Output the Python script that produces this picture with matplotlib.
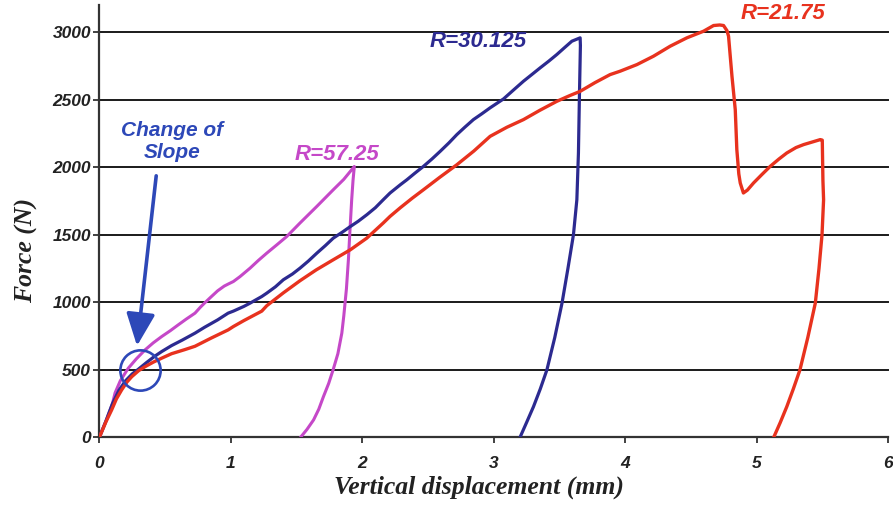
import matplotlib
matplotlib.use("Agg")
import matplotlib.pyplot as plt

# ---- data ----
x_5725 = [0, 0.05, 0.1, 0.12, 0.16, 0.22, 0.28, 0.348, 0.41, 0.475, 0.54, 0.6, 0.66, 0.728, 0.77,
          0.80, 0.85, 0.90, 0.95, 0.98, 1.02, 1.07, 1.147, 1.21, 1.274, 1.35, 1.426, 1.527, 1.655,
          1.78, 1.86, 1.94, 1.93, 1.92, 1.905, 1.895, 1.88, 1.86, 1.845, 1.815, 1.78, 1.745, 1.705,
          1.67, 1.63, 1.58, 1.53]
y_5725 = [0, 120, 250, 330, 420, 512, 580, 648, 700, 747, 790, 833, 875, 920, 965,
          994, 1040, 1085, 1120, 1135, 1154, 1190, 1253, 1310, 1364, 1425, 1487, 1587, 1710,
          1833, 1910, 2005, 1900, 1759, 1500, 1315, 1100, 900, 772, 620, 505, 400, 302,
          210, 130, 60, 0]

x_30125 = [0, 0.05, 0.1, 0.15, 0.2, 0.25, 0.297, 0.36, 0.42, 0.475, 0.55, 0.63, 0.728, 0.80, 0.9,
           0.98, 1.02, 1.1, 1.147, 1.236, 1.274, 1.34, 1.40, 1.47, 1.527, 1.59, 1.655, 1.72, 1.78,
           1.85, 1.91, 1.97, 2.035, 2.10, 2.16, 2.212, 2.29, 2.34, 2.40, 2.466, 2.53, 2.593, 2.66,
           2.72, 2.78, 2.846, 2.91, 2.973, 3.075, 3.15, 3.227, 3.29, 3.354, 3.42, 3.48, 3.54, 3.595,
           3.658, 3.66, 3.652, 3.645, 3.633, 3.607, 3.565, 3.52, 3.465, 3.405, 3.355, 3.303, 3.25, 3.2]
y_30125 = [0, 120, 250, 350, 420, 470, 505, 555, 600, 636, 680, 720, 772, 815, 870,
           920, 935, 970, 994, 1043, 1068, 1115, 1167, 1210, 1253, 1305, 1364, 1420, 1475,
           1520, 1561, 1600, 1648, 1700, 1759, 1809, 1870, 1907, 1955, 2006, 2060, 2117, 2180,
           2241, 2295, 2352, 2395, 2439, 2505, 2570, 2636, 2685, 2735, 2785, 2833, 2885, 2932,
           2957, 2900, 2500, 2105, 1759, 1500, 1250, 994, 740, 500, 360, 228, 110, 0]

x_2175 = [0, 0.05, 0.094, 0.13, 0.17, 0.21, 0.247, 0.30, 0.348, 0.41, 0.475, 0.55, 0.65, 0.728, 0.85,
          0.98, 1.02, 1.1, 1.236, 1.274, 1.40, 1.527, 1.65, 1.78, 1.91, 2.035, 2.16, 2.212, 2.29,
          2.38, 2.466, 2.59, 2.72, 2.85, 2.973, 3.1, 3.227, 3.35, 3.48, 3.58, 3.658, 3.77, 3.886,
          3.962, 4.09, 4.216, 4.343, 4.47, 4.597, 4.673, 4.72, 4.749, 4.775, 4.787, 4.80, 4.813,
          4.838, 4.85, 4.865, 4.876, 4.90, 4.93, 4.977, 5.04, 5.104, 5.17, 5.23, 5.30, 5.358, 5.42,
          5.485, 5.50, 5.505, 5.51, 5.498, 5.475, 5.447, 5.39, 5.33, 5.28, 5.23, 5.18, 5.13]
y_2175 = [0, 115, 204, 285, 352, 410, 450, 495, 524, 557, 587, 620, 650, 675, 735,
          796, 821, 865, 935, 975, 1070, 1160, 1240, 1315, 1389, 1475, 1587, 1636, 1700,
          1770, 1833, 1925, 2018, 2120, 2228, 2295, 2352, 2420, 2487, 2530, 2561, 2625, 2685,
          2710, 2759, 2821, 2895, 2957, 3006, 3048, 3052, 3048, 3010, 2969, 2820, 2673,
          2426, 2130, 1950, 1883, 1809, 1830, 1883, 1945, 2006, 2060, 2105, 2145, 2167, 2185,
          2204, 2200, 1900, 1759, 1500, 1250, 994, 740, 500, 360, 228, 110, 0]

x_ticks = [0, 1, 2, 3, 4, 5, 6]
y_ticks = [0, 500, 1000, 1500, 2000, 2500, 3000]

C_RED = "#E8321E"
C_BLUE = "#2C2A90"
C_MAG = "#C548C8"
C_ANN = "#2D48B8"

fig = plt.figure(figsize=(8.93, 5.08), dpi=100)
ax = fig.add_axes([0.1112, 0.1388, 0.8832, 0.8514])

ax.set_xlim(0, 6)
ax.set_ylim(0, 3200)

for y in y_ticks[1:]:
    ax.axhline(y, color="#1a1a1a", lw=1.4, zorder=1, clip_on=False)

ax.plot(x_5725, y_5725, color=C_MAG, lw=2.2, zorder=3, solid_joinstyle="round")
ax.plot(x_30125, y_30125, color=C_BLUE, lw=2.3, zorder=3, solid_joinstyle="round")
ax.plot(x_2175, y_2175, color=C_RED, lw=2.4, zorder=4, solid_joinstyle="round")

tfont = dict(family="Liberation Sans", weight="bold", style="italic")
ax.text(2.88, 2930, "R=30.125", color=C_BLUE, fontsize=16, ha="center", va="center", **tfont)
ax.text(1.81, 2092, "R=57.25", color=C_MAG, fontsize=16, ha="center", va="center", **tfont)
ax.text(5.2, 3140, "R=21.75", color=C_RED, fontsize=16, ha="center", va="center", **tfont)
ax.text(0.553, 2189, "Change of\nSlope", color=C_ANN, fontsize=15, ha="center", va="center",
        linespacing=1.15, **tfont)

ax.annotate("", xy=(0.287, 678), xytext=(0.433, 1936),
            arrowprops=dict(arrowstyle="-|>,head_length=0.9,head_width=0.4", color=C_ANN,
                            lw=2.6, shrinkA=0, shrinkB=0, mutation_scale=22), zorder=6)
ax.plot([0.311], [500], marker="o", markersize=29, markerfacecolor="none",
        markeredgecolor=C_ANN, markeredgewidth=1.9, zorder=6)

for s in ["top", "right"]:
    ax.spines[s].set_visible(False)
for s in ["left", "bottom"]:
    ax.spines[s].set_color("#333333")
    ax.spines[s].set_linewidth(1.6)

ax.set_xticks(x_ticks)
ax.set_yticks(y_ticks)
ax.tick_params(axis="both", direction="out", length=4, width=1.3, color="#333333",
               labelcolor="#222222", labelsize=12.5)
for lab in ax.get_xticklabels() + ax.get_yticklabels():
    lab.set_fontfamily("Liberation Sans")
    lab.set_fontweight("bold")
    lab.set_fontstyle("italic")
ax.tick_params(axis="x", pad=9)
ax.tick_params(axis="y", pad=2)

lfont = dict(family="Liberation Serif", weight="bold", style="italic", fontsize=18.5, color="#222222")
ax.set_xlabel("Vertical displacement (mm)", **lfont)
ax.set_ylabel("Force (N)", **lfont)
ax.xaxis.set_label_coords(0.481, -0.088)
ax.yaxis.set_label_coords(-0.078, 0.433)

fig.savefig("out.png", dpi=100)
